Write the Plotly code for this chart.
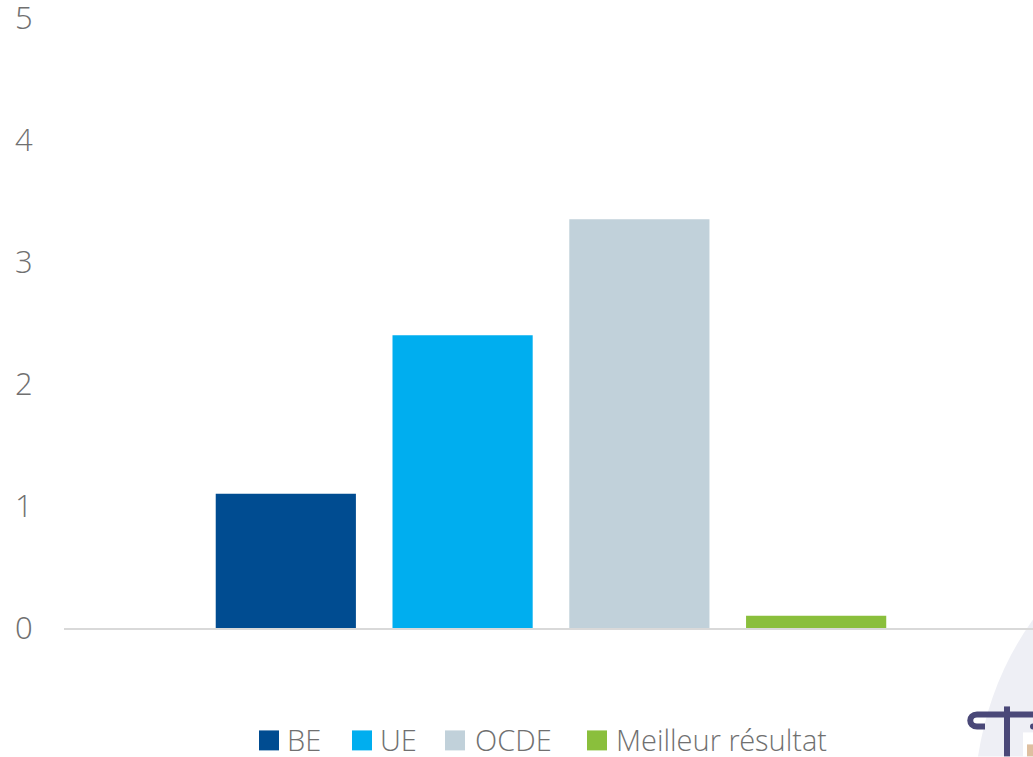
import plotly.graph_objects as go

W, H = 1033, 757
L, T, B = 64, 18, 128.5
series = ["BE", "UE", "OCDE", "Meilleur résultat"]
values = [1.1, 2.4, 3.35, 0.1]
colors = ["#004C91", "#00AEEF", "#C1D1DA", "#8ABF3C"]
y_ticks = [0, 1, 2, 3, 4, 5]
legend_swatch_x = [259, 352, 445, 587]
legend_text_x = [286, 379, 474, 615]
FONT = "Open Sans Light, Open Sans, sans-serif"
TEXT = "#707070"

def px(x):
    return (x - L) / (W - L)
def py(y):
    return (H - B - y) / (H - B - T)

fig = go.Figure()
for name, v, c in zip(series, values, colors):
    fig.add_bar(x=["Catégorie"], y=[v], name=name, marker_color=c, marker_line_width=0, showlegend=False)

shapes = [
    dict(type="path", xref="paper", yref="paper", layer="below", line_width=0, fillcolor="#EEEFF5",
         path=f"M{px(1033)},{py(620)} Q{px(990)},{py(680)} {px(978)},{py(757)} L{px(1033)},{py(757)} Z"),
    dict(type="path", xref="paper", yref="paper", layer="below", line=dict(color="#4A4878", width=6),
         path=f"M{px(1033)},{py(715)} L{px(977)},{py(715)} C{px(968)},{py(715)} {px(968)},{py(727)} {px(977)},{py(727)} L{px(985)},{py(727)}"),
    dict(type="line", xref="paper", yref="paper", layer="below", line=dict(color="#4A4878", width=6),
         x0=px(1007), x1=px(1007), y0=py(707), y1=py(757)),
    dict(type="rect", xref="paper", yref="paper", layer="below", line_width=0, fillcolor="#FFFFFF",
         x0=px(1023), x1=px(1033), y0=py(733), y1=py(757)),
    dict(type="rect", xref="paper", yref="paper", layer="below", line_width=0, fillcolor="#DEBFA0",
         x0=px(1027), x1=px(1033), y0=py(745), y1=py(757)),
    dict(type="circle", xref="paper", yref="paper", layer="below", line_width=0, fillcolor="#4A4878",
         x0=px(1030), x1=px(1036), y0=py(724), y1=py(730)),
]
annotations = []
for name, c, sx, tx in zip(series, colors, legend_swatch_x, legend_text_x):
    shapes.append(dict(type="rect", xref="paper", yref="paper", line_width=0, fillcolor=c,
                       x0=px(sx), x1=px(sx + 20), y0=py(731), y1=py(751)))
    annotations.append(dict(text=name, xref="paper", yref="paper", x=px(tx), y=py(740), xanchor="left",
                            yanchor="middle", showarrow=False, borderpad=0,
                            font=dict(size=29, color=TEXT, family=FONT, weight=300)))

fig.update_layout(
    width=W, height=H, autosize=False,
    margin=dict(l=L, r=0, t=T, b=B, pad=0, autoexpand=False),
    paper_bgcolor="#FFFFFF", plot_bgcolor="rgba(0,0,0,0)",
    barmode="group", bargap=0.274, bargroupgap=0.207,
    font=dict(family=FONT, size=29, color=TEXT, weight=300),
    shapes=shapes, annotations=annotations, showlegend=False,
    xaxis=dict(type="category", range=[-0.5, 0.4949], showticklabels=False, ticks="",
               showgrid=False, showline=True, linecolor="#D9D9D9", linewidth=2, zeroline=False),
    yaxis=dict(range=[0, 5], tickvals=y_ticks, showgrid=False, showline=False, zeroline=False,
               ticks="outside", ticklen=24, tickcolor="rgba(0,0,0,0)", ticklabeloverflow="allow",
               automargin=False, tickfont=dict(size=31, color=TEXT, family=FONT, weight=300)),
)
fig.write_html("out.html", config=dict(displayModeBar=False),
               post_script="document.body.style.margin='0';document.body.style.overflow='hidden';")
